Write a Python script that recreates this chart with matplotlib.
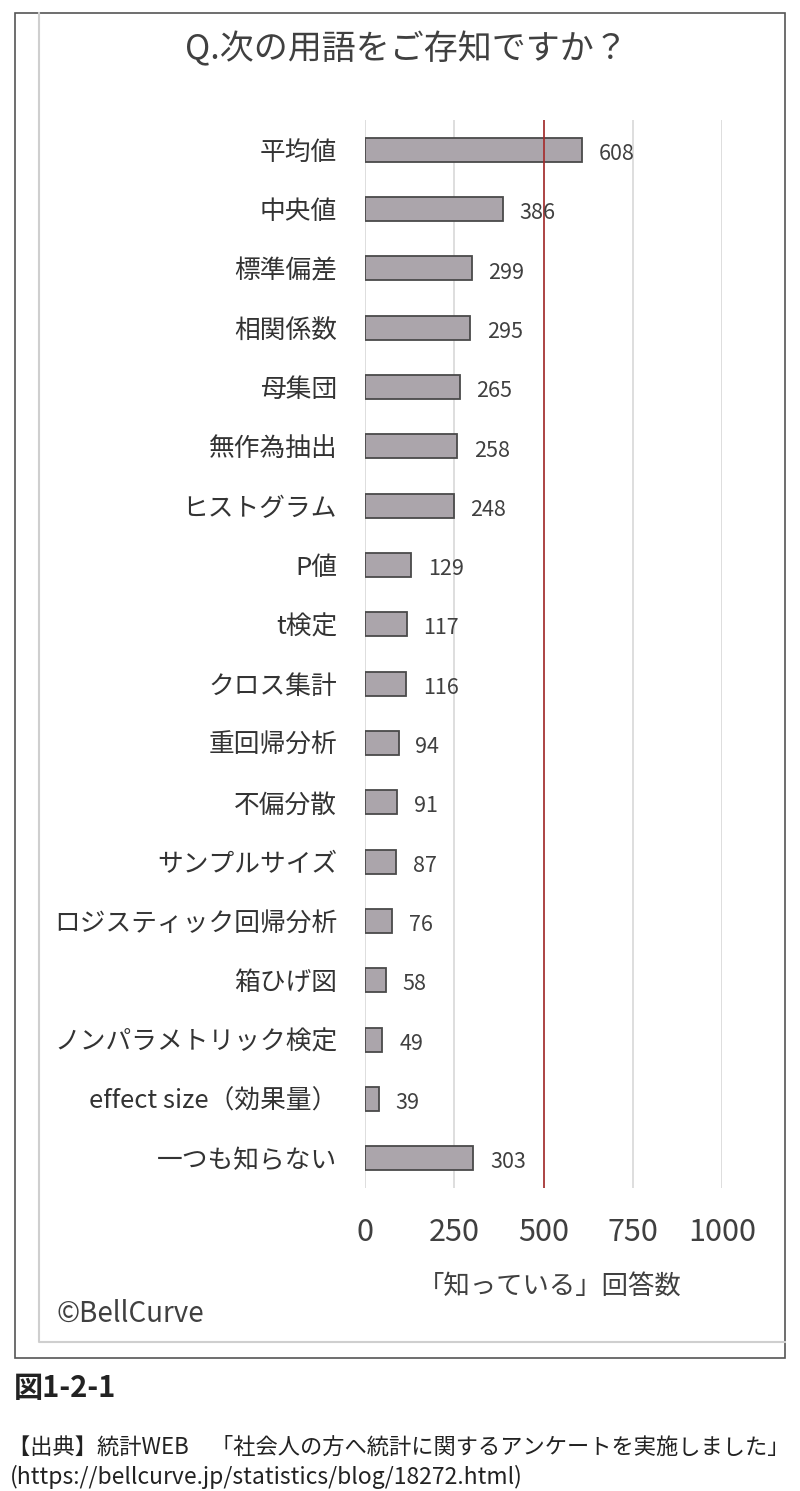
import numpy as np
import matplotlib.pyplot as plt
from matplotlib.lines import Line2D
from matplotlib.patches import Rectangle

plt.rcParams['font.family'] = ['Noto Sans CJK JP', 'DejaVu Sans']

terms = ["平均値", "中央値", "標準偏差", "相関係数", "母集団", "無作為抽出",
         "ヒストグラム", "P値", "t検定", "クロス集計", "重回帰分析", "不偏分散",
         "サンプルサイズ", "ロジスティック回帰分析", "箱ひげ図",
         "ノンパラメトリック検定", "effect size（効果量）", "一つも知らない"]
counts = [608, 386, 299, 295, 265, 258, 248, 129, 117, 116, 94, 91, 87, 76,
          58, 49, 39, 303]
xticks = [0, 250, 500, 750, 1000]
ref_line = 500

W, H = 800, 1491
fig = plt.figure(figsize=(W / 100, H / 100), dpi=100)

def fx(px):
    return px / W

def fy(py):
    return 1 - py / H

# plot area in pixels: x 365..722, y 120..1188
ax = fig.add_axes([fx(365), fy(1188), fx(722) - fx(365), fy(120) - fy(1188)])
y = np.arange(len(terms))
ax.barh(y, counts, height=0.4, color="#aba5ab", edgecolor="#4a4a4a",
        linewidth=1.3, zorder=3)
ax.set_xlim(0, 1000)
ax.set_ylim(len(terms) - 0.5, -0.5)
ax.set_xticks(xticks)
ax.set_xticklabels([str(t) for t in xticks])
ax.set_yticks(y)
ax.set_yticklabels(terms)
ax.tick_params(axis="x", length=0, pad=21, labelsize=22, labelcolor="#404040")
ax.tick_params(axis="y", length=0, pad=20, labelsize=18.5, labelcolor="#333333")
ax.grid(axis="x", color="#d4d4d4", linewidth=1.1, zorder=0)
ax.axvline(ref_line, color="#a52a2a", linewidth=1.2, zorder=4)
for s in ax.spines.values():
    s.set_visible(False)

for yi, v in zip(y, counts):
    ax.annotate(str(v), (v, yi), xytext=(12, -3), textcoords="offset points",
                ha="left", va="center", fontsize=15.5, color="#404040", zorder=5)

# title and labels
fig.text(fx(406), fy(50), "Q.次の用語をご存知ですか？", ha="center", va="center",
         fontsize=24.5, color="#404040")
fig.text(fx(550), fy(1286), "「知っている」回答数", ha="center", va="center",
         fontsize=19, color="#404040")
fig.text(fx(57), fy(1314), "©BellCurve", ha="left", va="center",
         fontsize=20, color="#404040")

# frames
fig.add_artist(Rectangle((fx(15), fy(1358)), fx(785) - fx(15), fy(13) - fy(1358),
                         transform=fig.transFigure, fill=False,
                         edgecolor="#555555", linewidth=1.2))
fig.add_artist(Line2D([fx(39), fx(39), fx(785)], [fy(13), fy(1342), fy(1342)],
                      transform=fig.transFigure, color="#cfcfcf", linewidth=1.5))

# caption
fig.text(fx(14), fy(1388), "図1-2-1", ha="left", va="center",
         fontsize=21, fontweight="bold", color="#222222")
fig.text(fx(8), fy(1447), "【出典】統計WEB　「社会人の方へ統計に関するアンケートを実施しました」",
         ha="left", va="center", fontsize=16, color="#222222")
fig.text(fx(10), fy(1477), "(https://bellcurve.jp/statistics/blog/18272.html)",
         ha="left", va="center", fontsize=16.5, color="#222222")

fig.savefig("out.png", dpi=100)
